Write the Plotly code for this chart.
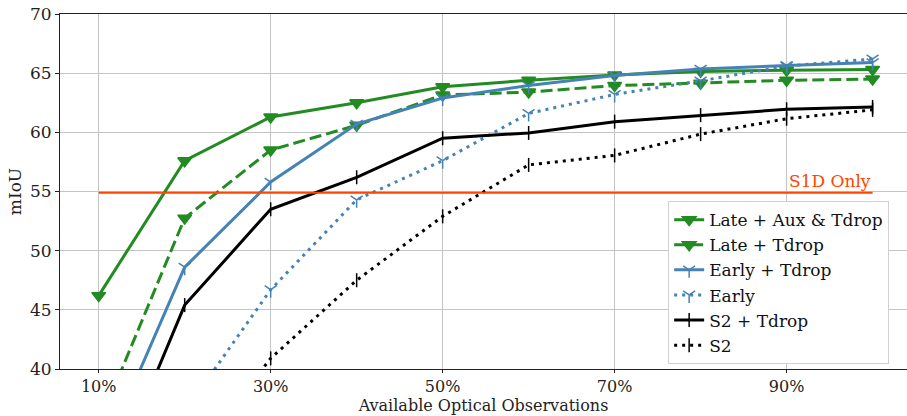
import plotly.graph_objects as go

# Fraction of optical observations available (percent)
obs_pct = [10, 20, 30, 40, 50, 60, 70, 80, 90, 100]

late_aux_tdrop = [46.2, 57.6, 61.3, 62.5, 63.85, 64.4, 64.85, 65.15, 65.25, 65.3]
late_tdrop = [35.3, 52.75, 58.5, 60.6, 63.15, 63.4, 63.95, 64.15, 64.4, 64.5]
early_tdrop = [31.9, 48.6, 55.8, 60.7, 62.9, 63.95, 64.8, 65.35, 65.65, 65.9]
early = [27.0, 36.4, 46.7, 54.3, 57.6, 61.6, 63.2, 64.35, 65.6, 66.2]
s2_tdrop = [28.0, 45.4, 53.5, 56.2, 59.5, 59.95, 60.9, 61.45, 61.95, 62.15]
s2 = [22.0, 31.6, 40.9, 47.5, 52.9, 57.25, 58.05, 59.85, 61.15, 61.9]

s1d_only = 54.9

x_ticks = [10, 30, 50, 70, 90]
x_tick_text = ["10%", "30%", "50%", "70%", "90%"]
y_ticks = [40, 45, 50, 55, 60, 65, 70]

GREEN = "#228B22"
BLUE = "#4682B4"
BLACK = "#000000"
ORANGE = "#FF4500"
FONT = "DejaVu Serif"

series = [
    ("Late + Aux & Tdrop", late_aux_tdrop, GREEN, "solid", "triangle-down", 12),
    ("Late + Tdrop", late_tdrop, GREEN, "12px,5px", "triangle-down", 12),
    ("Early + Tdrop", early_tdrop, BLUE, "solid", "y-down-open", 10),
    ("Early", early, BLUE, "3px,5px", "y-down-open", 10),
    ("S2 + Tdrop", s2_tdrop, BLACK, "solid", "line-ns-open", 10),
    ("S2", s2, BLACK, "3px,5px", "line-ns-open", 10),
]

fig = go.Figure()

for name, vals, color, dash, symbol, size in series:
    fig.add_trace(go.Scatter(
        x=obs_pct, y=vals, name=name, mode="lines+markers",
        line=dict(color=color, width=3, dash=dash),
        marker=dict(symbol=symbol, size=size, color=color,
                    line=dict(color=color, width=1.5)),
    ))

# Baseline using the S1D input alone
fig.add_trace(go.Scatter(
    x=[obs_pct[0], obs_pct[-1]], y=[s1d_only, s1d_only],
    mode="lines", line=dict(color=ORANGE, width=2, dash="solid"),
    showlegend=False, hoverinfo="skip",
))

fig.add_annotation(
    x=obs_pct[-1], y=s1d_only, text="S1D Only", showarrow=False,
    xanchor="right", yanchor="bottom", yshift=0,
    font=dict(family=FONT, size=17, color=ORANGE),
)

fig.update_layout(
    width=907, height=416,
    margin=dict(l=60, r=0, t=14, b=47),
    paper_bgcolor="white", plot_bgcolor="white",
    font=dict(family=FONT, size=17, color="#222222"),
    legend=dict(
        x=0.718, y=0.473, xanchor="left", yanchor="top",
        bgcolor="white", bordercolor="#d0d0d0", borderwidth=1,
        font=dict(family=FONT, size=17, color="#111111"),
        traceorder="normal",
    ),
    xaxis=dict(
        range=[5.5, 104.0],
        tickvals=x_ticks, ticktext=x_tick_text,
        showgrid=True, gridcolor="#c4c4c4", gridwidth=1,
        showline=True, linecolor="#222222", linewidth=1, mirror=True,
        ticks="outside", ticklen=3, tickcolor="#222222",
        zeroline=False,
        tickfont=dict(family=FONT, size=16),
        title=dict(text="Available Optical Observations", standoff=3,
                   font=dict(family=FONT, size=16)),
    ),
    yaxis=dict(
        range=[40, 70],
        tickvals=y_ticks,
        showgrid=True, gridcolor="#c4c4c4", gridwidth=1,
        showline=True, linecolor="#222222", linewidth=1,
        ticks="outside", ticklen=4, tickcolor="#222222",
        zeroline=False,
        tickfont=dict(family=FONT, size=17),
        title=dict(text="mIoU", standoff=4, font=dict(family=FONT, size=17)),
    ),
)

fig.write_html("out.html")
